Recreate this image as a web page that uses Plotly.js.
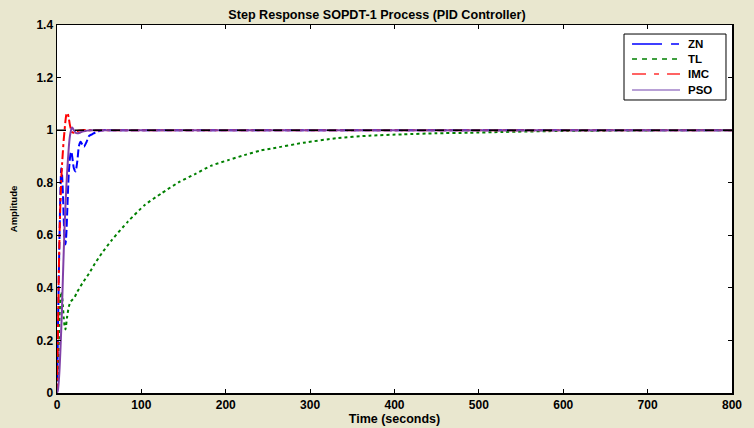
<!DOCTYPE html>
<html>
<head>
<meta charset="utf-8">
<script src="https://cdn.plot.ly/plotly-3.0.1.min.js"></script>
<style>
  html, body { margin: 0; padding: 0; background: #E9E7CF; }
  #chart { width: 754px; height: 428px; }
</style>
</head>
<body>
<div id="chart"></div>
<script>
// Series names
var seriesNames = ['ZN', 'TL', 'IMC', 'PSO'];

// ZN response
var tZN = [0,1,2,3,4,5,6,7,8,9,10,11,12,14,16,17,18,20,22,24,26,28,30,32,35,38,42,46,50,55,60,100,200,400,600,800];
var yZN = [0,0.2,0.42,0.6,0.76,0.855,0.83,0.76,0.66,0.585,0.565,0.6,0.68,0.84,0.91,0.918,0.9,0.855,0.843,0.88,0.94,0.956,0.945,0.937,0.955,0.978,0.985,0.992,0.997,1.0,1.0,1.0,1.0,1.0,1.0,1.0];

// TL response
var tTL = [0,1,2,3,4,5,6,7,8,9,10,12,14,16,18,20,24,30,38,45,53,65,84,104,124,144,163,183,203,222,242,256,292,331,370,410,449,489,528,600,700,800];
var yTL = [0,0.06,0.17,0.29,0.36,0.385,0.37,0.33,0.285,0.255,0.242,0.29,0.328,0.347,0.354,0.36,0.385,0.417,0.455,0.493,0.531,0.582,0.652,0.715,0.76,0.801,0.832,0.865,0.886,0.905,0.923,0.931,0.952,0.969,0.979,0.984,0.988,0.99,0.993,0.997,0.999,1.0];

// IMC response
var tIMC = [0,1,2,3,4,5,6,7,8,9,10,11,12,13,14,15,16,17,18,20,22,25,30,40,800];
var yIMC = [0,0.2,0.43,0.6,0.72,0.81,0.87,0.92,0.965,1.0,1.035,1.058,1.066,1.06,1.045,1.025,1.01,0.998,0.992,0.99,0.993,0.998,1.0,1.0,1.0];

// PSO response
var tPSO = [0,1,2,3,4,5,6,7,8,9,10,11,12,13,14,15,16,17,18,20,22,24,27,30,35,40,800];
var yPSO = [0,0.01,0.04,0.09,0.16,0.24,0.33,0.44,0.54,0.63,0.71,0.78,0.84,0.89,0.935,0.97,0.99,1.005,1.01,1.0,0.99,0.988,0.99,0.995,0.998,1.0,1.0];

// steady-state reference
var tRef = [0, 800];
var yRef = [1, 1];

var xTicks = [0,100,200,300,400,500,600,700,800];
var yTicks = [0,0.2,0.4,0.6,0.8,1,1.2,1.4];
var yTickText = ['0','0.2','0.4','0.6','0.8','1','1.2','1.4'];

var colors = ['#0000FF', '#008000', '#FF0000', '#8040A8'];
var legendColors = ['#0000FF', '#008000', '#FF3030', '#A080C8'];
var dashes = ['8px,3px', 'dot', 'dashdot', 'solid'];
var legendDashes = ['30px,9px,8px', '5px,5px', '14px,8px,5px,8px', 'solid'];

var xs = [tZN, tTL, tIMC, tPSO];
var ys = [yZN, yTL, yIMC, yPSO];

var traces = [];
for (var i = 0; i < seriesNames.length; i++) {
  traces.push({x: xs[i], y: ys[i], name: seriesNames[i], mode: 'lines',
    line: {color: colors[i], width: 2, dash: dashes[i], shape: 'spline', smoothing: 0.6}});
}
traces.push({x: tRef, y: yRef, name: 'ref', mode: 'lines', showlegend: false, hoverinfo: 'skip',
  line: {color: '#000000', width: 1.5, dash: 'dash'}});

var fontFam = 'Arial, "Liberation Sans", Helvetica, sans-serif';

// compact legend box (drawn in paper coordinates)
var legBox = {x0: 0.84, x1: 0.9911, y0: 0.7962, y1: 0.9755};
var legRowY = [0.9484, 0.9076, 0.8668, 0.8234];
var legLineX = [0.8519, 0.9230];
var legTextX = 0.9319;

var shapes = [{type: 'rect', xref: 'paper', yref: 'paper', x0: legBox.x0, x1: legBox.x1, y0: legBox.y0, y1: legBox.y1,
  fillcolor: '#FFFFFF', line: {color: '#000000', width: 1}}];
var annotations = [];
for (var j = 0; j < seriesNames.length; j++) {
  shapes.push({type: 'line', xref: 'paper', yref: 'paper', x0: legLineX[0], x1: legLineX[1], y0: legRowY[j], y1: legRowY[j],
    line: {color: legendColors[j], width: 1.5, dash: legendDashes[j]}});
  annotations.push({xref: 'paper', yref: 'paper', x: legTextX, y: legRowY[j], xanchor: 'left', yanchor: 'middle',
    text: seriesNames[j], showarrow: false, font: {family: fontFam, size: 11.5, weight: 'bold', color: '#000'}});
}

var layout = {
  width: 754, height: 428,
  paper_bgcolor: '#E9E7CF',
  plot_bgcolor: '#FFFFFF',
  margin: {l: 57, r: 22, t: 25, b: 35, pad: 0},
  font: {family: fontFam, color: '#000000', size: 11},
  title: {text: 'Step Response SOPDT-1 Process (PID Controller)', font: {family: fontFam, size: 12.6, weight: 'bold', color: '#000'}, x: 0.5, xanchor: 'center', y: 0.965, yanchor: 'middle'},
  xaxis: {
    range: [0, 800], tickvals: xTicks, ticks: 'inside', ticklen: 4, tickwidth: 1, tickcolor: '#000',
    showline: true, linecolor: '#000', linewidth: 1.5, mirror: 'ticks', showgrid: false, zeroline: false,
    tickfont: {family: fontFam, size: 12, weight: 'bold'},
    title: {text: 'Time (seconds)', font: {family: fontFam, size: 12.5, weight: 'bold'}, standoff: 2}
  },
  yaxis: {
    range: [0, 1.4], tickvals: yTicks, ticktext: yTickText, ticks: 'inside', ticklen: 4, tickwidth: 1, tickcolor: '#000',
    showline: true, linecolor: '#000', linewidth: 1.5, mirror: 'ticks', showgrid: false, zeroline: false,
    tickfont: {family: fontFam, size: 12, weight: 'bold'},
    title: {text: 'Amplitude', font: {family: fontFam, size: 9.5, weight: 'bold'}, standoff: 17}
  },
  showlegend: false,
  shapes: shapes,
  annotations: annotations
};

Plotly.newPlot('chart', traces, layout, {displayModeBar: false, staticPlot: true});
</script>
</body>
</html>
